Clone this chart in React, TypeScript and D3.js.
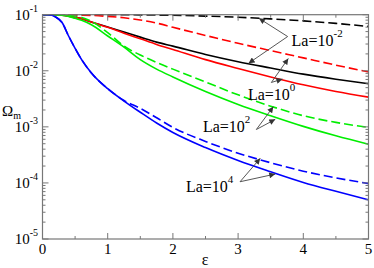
import React from 'react';
import * as d3 from 'd3';

// epsilon grid shared by every curve
const eps = [0, 0.1, 0.2, 0.3, 0.4, 0.5, 0.6, 0.75, 1, 1.25, 1.5, 1.75, 2, 2.5, 3, 3.5, 4, 4.5, 5];

// Omega_m, La = 10^-2, 10^0, 10^2, 10^4 ; solid and dashed
const blackSolid = [0.1, 0.1, 0.0993, 0.0977, 0.0944, 0.0902, 0.0851, 0.0741, 0.0603, 0.049, 0.0398, 0.0324, 0.0275, 0.0195, 0.0145, 0.0112, 0.00871, 0.00708, 0.00589];
const blackDashed = [0.1, 0.1, 0.1, 0.1, 0.1, 0.1, 0.1, 0.1, 0.1, 0.0998, 0.0993, 0.0986, 0.0977, 0.0944, 0.0902, 0.0841, 0.0776, 0.07, 0.0617];
const redSolid = [0.1, 0.1, 0.0993, 0.0977, 0.0944, 0.0902, 0.0851, 0.0741, 0.0596, 0.0468, 0.0372, 0.0295, 0.024, 0.0158, 0.011, 0.00776, 0.00562, 0.00427, 0.00339];
const redDashed = [0.1, 0.1, 0.1, 0.1, 0.1, 0.0993, 0.0986, 0.0973, 0.0933, 0.0881, 0.0804, 0.0708, 0.0596, 0.0427, 0.0309, 0.0229, 0.017, 0.0126, 0.00955];
const greenSolid = [0.1, 0.1, 0.0993, 0.0977, 0.0933, 0.0861, 0.0794, 0.0661, 0.0417, 0.0263, 0.0158, 0.0107, 0.00776, 0.00427, 0.00251, 0.00158, 0.00102, 6.92e-4, 4.9e-4];
const greenDashed = [0.1, 0.1, 0.0995, 0.0986, 0.0966, 0.0933, 0.0891, 0.0759, 0.0479, 0.0275, 0.0191, 0.0141, 0.0107, 0.00631, 0.00372, 0.00234, 0.00158, 0.0012, 9.77e-4];
const blueSolid = [0.1, 0.1, 0.0912, 0.0724, 0.0417, 0.0251, 0.0158, 0.00912, 0.00479, 0.00288, 0.00182, 0.00117, 7.94e-4, 4.27e-4, 2.51e-4, 1.58e-4, 1.02e-4, 7.08e-5, 5.01e-5];
const blueDashed = [0.1, 0.1, 0.0912, 0.0724, 0.0417, 0.0251, 0.0158, 0.00912, 0.00479, 0.00295, 0.00214, 0.00145, 9.77e-4, 5.5e-4, 3.39e-4, 2.29e-4, 1.62e-4, 1.23e-4, 9.77e-5];

const xTicks = [0, 1, 2, 3, 4, 5];
const yTicks = [1e-5, 1e-4, 1e-3, 1e-2, 1e-1];
const yTickExp = ['-5', '-4', '-3', '-2', '-1'];

// annotation labels: text anchor, arrow origin, two arrow tips (eps, Omega)
const labelExp = ['-2', '0', '2', '4'];
const labelPos = [[3.82, 0.0271], [3.15, 0.00301], [2.46, 7.94e-4], [2.2, 6.98e-5]];
const arrowFrom = [[3.76, 0.0408], [3.51, 0.00618], [3.28, 8.97e-4], [3.03, 1.05e-4]];
const arrowTipA = [[3.32, 0.0862], [3.77, 0.01656], [3.54, 0.00229], [3.34, 2.75e-4]];
const arrowTipB = [[3.16, 0.0136], [3.68, 0.00713], [3.57, 0.00136], [3.57, 1.44e-4]];

const series = [
  { vals: blackDashed, color: '#000000', dash: true },
  { vals: blackSolid, color: '#000000', dash: false },
  { vals: redDashed, color: '#ff0000', dash: true },
  { vals: redSolid, color: '#ff0000', dash: false },
  { vals: greenDashed, color: '#00ee00', dash: true },
  { vals: greenSolid, color: '#00ee00', dash: false },
  { vals: blueDashed, color: '#0000ff', dash: true },
  { vals: blueSolid, color: '#0000ff', dash: false },
];

const SERIF = 'Liberation Serif';

export default function App() {
  const width = 374, height = 268;
  const x = d3.scaleLinear().domain([0, 5]).range([42.5, 368.5]);
  const y = d3.scaleLog().domain([1e-5, 1e-1]).range([239, 14.7]);
  const line = d3.line<number>()
    .x((d, i) => x(eps[i]))
    .y(d => y(d))
    .curve(d3.curveMonotoneX);

  const axisCol = '#777';
  const xMinor = d3.range(0.5, 5, 1);
  const yMinor = y.ticks().filter(v => !yTicks.some(t => Math.abs(t - v) / t < 1e-6));
  const [x0, x1] = x.range();
  const [y0, y1] = y.range();

  return (
    <svg width={width} height={height} fontFamily={SERIF}
         style={{ position: 'absolute', left: 0, top: 0, fontFamily: SERIF }}>
      <defs>
        <marker id="ah" viewBox="0 0 10 10" refX="10" refY="5" markerWidth="7" markerHeight="6"
                markerUnits="userSpaceOnUse" orient="auto">
          <path d="M0,0 L10,5 L0,10 z" fill="#333" />
        </marker>
      </defs>
      <rect width={width} height={height} fill="#fff" />
      {series.map((s, i) => (
        <path key={i} d={line(s.vals) || ''} fill="none" stroke={s.color}
              strokeWidth={1.6} strokeDasharray={s.dash ? '9,4' : undefined} />
      ))}

      {/* frame */}
      <rect x={x0} y={y1} width={x1 - x0} height={y0 - y1} fill="none" stroke={axisCol} strokeWidth={1.2} />
      {xTicks.map(t => (
        <g key={'xt' + t}>
          <line x1={x(t)} x2={x(t)} y1={y0} y2={y0 - 6} stroke={axisCol} />
          <line x1={x(t)} x2={x(t)} y1={y1} y2={y1 + 6} stroke={axisCol} />
          <text x={x(t)} y={y0 + 14.5} fontSize={15} textAnchor="middle" fontFamily={SERIF}>{t}</text>
        </g>
      ))}
      {xMinor.map(t => (
        <g key={'xm' + t}>
          <line x1={x(t)} x2={x(t)} y1={y0} y2={y0 - 3} stroke={axisCol} />
          <line x1={x(t)} x2={x(t)} y1={y1} y2={y1 + 3} stroke={axisCol} />
        </g>
      ))}
      {yTicks.map((t, i) => (
        <g key={'yt' + i}>
          <line x1={x0} x2={x0 + 6} y1={y(t)} y2={y(t)} stroke={axisCol} />
          <line x1={x1} x2={x1 - 6} y1={y(t)} y2={y(t)} stroke={axisCol} />
          <text x={38} y={y(t) + 5} fontSize={15} textAnchor="end" fontFamily={SERIF}>
            10<tspan fontSize={10} dy={-8}>{yTickExp[i]}</tspan>
          </text>
        </g>
      ))}
      {yMinor.map((t, i) => (
        <g key={'ym' + i}>
          <line x1={x0} x2={x0 + 3} y1={y(t)} y2={y(t)} stroke={axisCol} />
          <line x1={x1} x2={x1 - 3} y1={y(t)} y2={y(t)} stroke={axisCol} />
        </g>
      ))}

      {/* axis titles */}
      <text x={2} y={116} fontSize={15} fontFamily={SERIF}>Ω<tspan fontSize={10} dy={3}>m</tspan></text>
      <text x={205} y={265} fontSize={16} textAnchor="middle" fontFamily={SERIF}>ε</text>

      {/* La annotations */}
      {labelExp.map((e, i) => (
        <g key={'la' + i}>
          {[arrowTipA[i], arrowTipB[i]].map((tip, j) => (
            <line key={j} x1={x(arrowFrom[i][0])} y1={y(arrowFrom[i][1])} x2={x(tip[0])} y2={y(tip[1])}
                  stroke="#444" strokeWidth={0.9} markerEnd="url(#ah)" />
          ))}
          <text x={x(labelPos[i][0])} y={y(labelPos[i][1])} fontSize={16} fontFamily={SERIF}>
            La=10<tspan fontSize={11} dy={-9}>{e}</tspan>
          </text>
        </g>
      ))}
    </svg>
  );
}
